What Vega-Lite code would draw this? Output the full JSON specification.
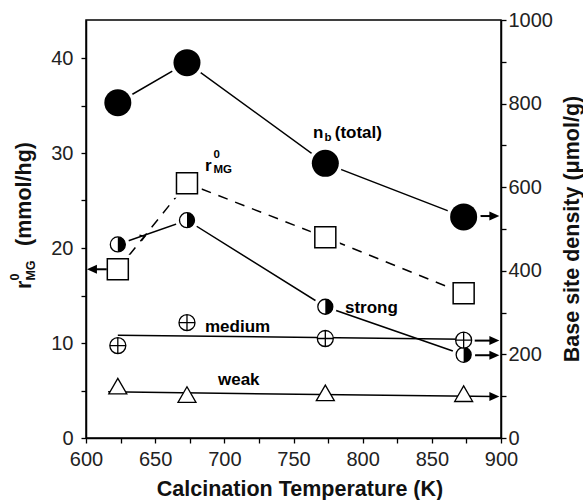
{
  "$schema": "https://vega.github.io/schema/vega-lite/v6.json",
  "width": 415,
  "height": 418,
  "autosize": {"type": "none"},
  "padding": {"left": 86, "top": 20, "right": 82, "bottom": 62},
  "background": "white",
  "config": {
    "view": {"stroke": "black", "strokeWidth": 1.5},
    "font": "Liberation Sans",
    "axis": {
      "grid": false,
      "domainColor": "black",
      "domainWidth": 1.5,
      "tickColor": "black",
      "tickWidth": 1.3,
      "tickSize": 5,
      "labelFont": "Liberation Sans",
      "labelFontSize": 20,
      "labelColor": "#222",
      "labelFlush": false,
      "labelOverlap": false,
      "titleFont": "Liberation Sans",
      "titleFontSize": 21.5,
      "titleFontWeight": "bold",
      "titleColor": "#111"
    }
  },
  "datasets": {
    "nb": [{"T": 623, "v": 802}, {"T": 673, "v": 898}, {"T": 773, "v": 657}, {"T": 873, "v": 529}],
    "r0": [{"T": 623, "v": 17.76}, {"T": 673, "v": 26.81}, {"T": 773, "v": 21.13}, {"T": 873, "v": 15.23}],
    "strong": [{"T": 623, "v": 463}, {"T": 673, "v": 521}, {"T": 773, "v": 314}, {"T": 873, "v": 199}],
    "medium": [{"T": 623, "v": 221}, {"T": 673, "v": 276}, {"T": 773, "v": 238}, {"T": 873, "v": 234}],
    "weak": [{"T": 623, "v": 124}, {"T": 673, "v": 104}, {"T": 773, "v": 108}, {"T": 873, "v": 106}],
    "fitMedium": [{"T": 623, "v": 246}, {"T": 873, "v": 236}],
    "fitWeak": [{"T": 616, "v": 110.5}, {"T": 895, "v": 99}],
    "arrowR": [{"T": 883, "T2": 895, "v": 531}, {"T": 881, "T2": 895, "v": 233}, {"T": 880, "T2": 895, "v": 198}],
    "headR": [{"T": 895.2, "v": 531}, {"T": 895.2, "v": 233}, {"T": 895.2, "v": 198}, {"T": 895.2, "v": 99}],
    "arrowL": [{"T": 615, "T2": 604.3, "v": 17.76}],
    "headL": [{"T": 604.3, "v": 17.76}],
    "chevron": [{"T": 641.4, "v": 481}],
    "lab17": [
      {"T": 764.1, "v": 31.58, "t": "n"},
      {"T": 779.8, "v": 31.58, "t": "(total)"},
      {"T": 787.2, "v": 13.21, "t": "strong"},
      {"T": 686.0, "v": 11.21, "t": "medium"},
      {"T": 695.4, "v": 5.58, "t": "weak"},
      {"T": 686.0, "v": 28.11, "t": "r"}
    ],
    "lab11": [
      {"T": 772.4, "v": 31.3, "t": "b"},
      {"T": 692.2, "v": 27.89, "t": "MG"},
      {"T": 692.2, "v": 29.47, "t": "0"}
    ],
    "ltBig": [{"T": 560.0, "v": 15.68, "t": "r"}],
    "ltSmall": [{"T": 563.1, "v": 16.57, "t": "MG"}, {"T": 551.9, "v": 16.57, "t": "0"}]
  },
  "layer": [
    {
      "encoding": {
        "x": {
          "field": "T", "type": "quantitative",
          "scale": {"domain": [600, 900], "nice": false, "zero": false},
          "axis": {
            "values": [600, 625, 650, 675, 700, 725, 750, 775, 800, 825, 850, 875, 900],
            "labelExpr": "datum.value % 50 == 0 ? datum.label : ''",
            "format": "d",
            "labelPadding": 6,
            "title": "Calcination Temperature (K)",
            "titleX": 213.5,
            "titleY": 57,
            "titleAlign": "center",
            "titleBaseline": "alphabetic"
          }
        },
        "y": {
          "field": "v", "type": "quantitative",
          "scale": {"domain": [0, 44], "nice": false, "zero": false},
          "axis": {
            "orient": "left",
            "values": [0, 5, 10, 15, 20, 25, 30, 35, 40],
            "labelExpr": "datum.value % 10 == 0 ? datum.label : ''",
            "format": "d",
            "labelPadding": 8,
            "title": "(mmol/hg)",
            "titleAngle": 270,
            "titleX": -55.3,
            "titleY": 173.5,
            "titleAlign": "center",
            "titleBaseline": "alphabetic"
          }
        }
      },
      "layer": [
        {
          "data": {"name": "r0"},
          "mark": {"type": "line", "color": "black", "strokeWidth": 1.5, "strokeDash": [10, 8]}
        },
        {
          "data": {"name": "r0"},
          "mark": {"type": "point", "shape": "square", "size": 841, "filled": true, "color": "white", "opacity": 1, "strokeWidth": 0}
        },
        {
          "data": {"name": "arrowL"},
          "mark": {"type": "rule", "color": "black", "strokeWidth": 2},
          "encoding": {"x2": {"field": "T2"}}
        },
        {
          "data": {"name": "headL"},
          "mark": {"type": "point", "shape": "M-1,0 L1,-0.9 L1,0.9 Z", "size": 100, "filled": true, "color": "black", "opacity": 1, "strokeWidth": 0}
        },
        {
          "data": {"name": "r0"},
          "mark": {"type": "point", "shape": "square", "size": 441, "filled": true, "fill": "white", "stroke": "black", "strokeWidth": 1.5, "opacity": 1}
        },
        {
          "data": {"name": "lab17"},
          "mark": {"type": "text", "align": "left", "baseline": "alphabetic", "fontWeight": "bold", "fontSize": 17, "font": "Liberation Sans", "color": "black"},
          "encoding": {"text": {"field": "t"}}
        },
        {
          "data": {"name": "lab11"},
          "mark": {"type": "text", "align": "left", "baseline": "alphabetic", "fontWeight": "bold", "fontSize": 11.5, "font": "Liberation Sans", "color": "black"},
          "encoding": {"text": {"field": "t"}}
        },
        {
          "data": {"name": "ltBig"},
          "mark": {"type": "text", "align": "left", "baseline": "alphabetic", "angle": 270, "fontWeight": "bold", "fontSize": 21.5, "font": "Liberation Sans", "color": "#111"},
          "encoding": {"text": {"field": "t"}}
        },
        {
          "data": {"name": "ltSmall"},
          "mark": {"type": "text", "align": "left", "baseline": "alphabetic", "angle": 270, "fontWeight": "bold", "fontSize": 12.5, "font": "Liberation Sans", "color": "#111"},
          "encoding": {"text": {"field": "t"}}
        }
      ]
    },
    {
      "encoding": {
        "x": {
          "field": "T", "type": "quantitative",
          "scale": {"domain": [600, 900], "nice": false, "zero": false},
          "axis": {
            "values": [600, 625, 650, 675, 700, 725, 750, 775, 800, 825, 850, 875, 900],
            "labelExpr": "datum.value % 50 == 0 ? datum.label : ''",
            "format": "d",
            "labelPadding": 6,
            "title": "Calcination Temperature (K)",
            "titleX": 213.5,
            "titleY": 57,
            "titleAlign": "center",
            "titleBaseline": "alphabetic"
          }
        },
        "y": {
          "field": "v", "type": "quantitative",
          "scale": {"domain": [0, 1000], "nice": false, "zero": false},
          "axis": {
            "orient": "right",
            "values": [0, 100, 200, 300, 400, 500, 600, 700, 800, 900, 1000],
            "labelExpr": "datum.value % 200 == 0 ? datum.label : ''",
            "format": "d",
            "labelPadding": 2,
            "title": "Base site density (μmol/g)",
            "titleAngle": 270,
            "titleX": 77,
            "titleY": 208.5,
            "titleAlign": "center",
            "titleBaseline": "alphabetic"
          }
        }
      },
      "layer": [
        {
          "data": {"name": "nb"},
          "mark": {"type": "line", "color": "black", "strokeWidth": 1.5}
        },
        {
          "data": {"name": "strong"},
          "mark": {"type": "line", "color": "black", "strokeWidth": 1.5}
        },
        {
          "data": {"name": "fitMedium"},
          "mark": {"type": "line", "color": "black", "strokeWidth": 1.5}
        },
        {
          "data": {"name": "fitWeak"},
          "mark": {"type": "line", "color": "black", "strokeWidth": 1.5}
        },
        {
          "data": {"name": "arrowR"},
          "mark": {"type": "rule", "color": "black", "strokeWidth": 2},
          "encoding": {"x2": {"field": "T2"}}
        },
        {
          "data": {"name": "headR"},
          "mark": {"type": "point", "shape": "M1,0 L-1,-0.9 L-1,0.9 Z", "size": 100, "filled": true, "color": "black", "opacity": 1, "strokeWidth": 0}
        },
        {
          "data": {"name": "chevron"},
          "mark": {"type": "point", "shape": "M-1,-1 L0.6,0 L-1,1", "size": 36, "filled": false, "stroke": "black", "strokeWidth": 1.3, "opacity": 1, "angle": 340}
        },
        {
          "data": {"name": "nb"},
          "mark": {"type": "point", "shape": "circle", "size": 1156, "filled": true, "color": "white", "opacity": 1, "strokeWidth": 0}
        },
        {
          "data": {"name": "strong"},
          "mark": {"type": "point", "shape": "circle", "size": 529, "filled": true, "color": "white", "opacity": 1, "strokeWidth": 0}
        },
        {
          "data": {"name": "nb"},
          "mark": {"type": "point", "shape": "circle", "size": 729, "filled": true, "color": "black", "opacity": 1, "strokeWidth": 0}
        },
        {
          "data": {"name": "strong"},
          "mark": {"type": "point", "shape": "circle", "size": 225, "filled": true, "fill": "white", "stroke": "black", "strokeWidth": 1.3, "opacity": 1}
        },
        {
          "data": {"name": "strong"},
          "mark": {"type": "point", "shape": "M0,-1 A1,1 0 0,1 0,1 Z", "size": 225, "filled": true, "color": "black", "opacity": 1, "strokeWidth": 0}
        },
        {
          "data": {"name": "medium"},
          "mark": {"type": "point", "shape": "M-1,0 A1,1 0 1,1 1,0 A1,1 0 1,1 -1,0 Z M-1,0 L1,0 M0,-1 L0,1", "size": 256, "filled": true, "fill": "white", "stroke": "black", "strokeWidth": 1.3, "opacity": 1}
        },
        {
          "data": {"name": "weak"},
          "mark": {"type": "point", "shape": "triangle-up", "size": 324, "filled": true, "fill": "white", "stroke": "black", "strokeWidth": 1.3, "opacity": 1}
        }
      ]
    }
  ],
  "resolve": {"scale": {"y": "independent"}}
}
